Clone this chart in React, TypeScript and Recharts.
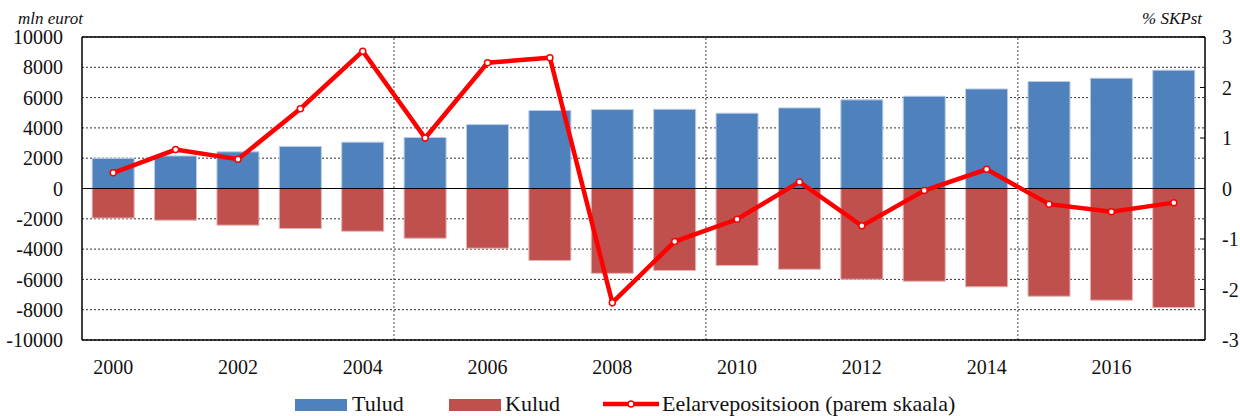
import React from "react";
import {
  ComposedChart,
  Bar,
  Line,
  XAxis,
  YAxis,
  CartesianGrid,
  ReferenceLine,
} from "recharts";

if (typeof document !== "undefined") {
  document.body.style.margin = "0";
}

const years = ["2000","2001","2002","2003","2004","2005","2006","2007","2008","2009","2010","2011","2012","2013","2014","2015","2016","2017"];
const tulud = [1990, 2150, 2420, 2780, 3060, 3370, 4220, 5150, 5210, 5230, 4970, 5320, 5850, 6090, 6570, 7060, 7280, 7810];
const kulud = [-1950, -2090, -2420, -2640, -2820, -3280, -3940, -4750, -5600, -5410, -5080, -5330, -5990, -6120, -6490, -7110, -7370, -7860];
const eelarve = [0.31, 0.77, 0.58, 1.58, 2.72, 1.0, 2.49, 2.59, -2.26, -1.05, -0.61, 0.13, -0.74, -0.04, 0.38, -0.31, -0.46, -0.28];
const leftTicks = [-10000, -8000, -6000, -4000, -2000, 0, 2000, 4000, 6000, 8000, 10000];
const rightTicks = [-3, -2, -1, 0, 1, 2, 3];
const periodStarts = ["2005", "2010", "2015"];

const data = years.map((y, i) => ({
  year: y,
  tulud: tulud[i],
  kulud: kulud[i],
  eelarve: eelarve[i],
}));

const FONT = "'Liberation Serif', 'DejaVu Serif', serif";
const BLUE = "#4F81BD";
const RED = "#C0504D";
const TICK_STYLE = { fontFamily: FONT, fontSize: 20, fill: "#111" };

const RightTick = (props: any) => {
  const { x, y, payload } = props;
  return (
    <g>
      <line x1={x - 5} x2={x} y1={y} y2={y} stroke="#000" strokeWidth={1} />
      <text x={x + 17} y={y} dy="0.35em" textAnchor="start" style={{ fontFamily: FONT, fontSize: 20 }} fill="#111">
        {payload.value}
      </text>
    </g>
  );
};

export default function App() {
  return (
    <div style={{ position: "relative", width: 1240, height: 416, fontFamily: FONT }}>
      <ComposedChart
        width={1240}
        height={416}
        data={data}
        stackOffset="sign"
        barCategoryGap="16.3%"
        margin={{ top: 37, right: 0, bottom: 36, left: 0 }}
        style={{ fontFamily: FONT }}
      >
        <CartesianGrid yAxisId="left" vertical={false} stroke="#333" strokeDasharray="2 2" />
        <XAxis
          dataKey="year"
          interval={1}
          tickLine={false}
          tickSize={0}
          tickMargin={20}
          height={40}
          axisLine={{ stroke: "#000", strokeWidth: 1.5 }}
          tick={{ ...TICK_STYLE, style: { fontFamily: FONT } }}
        />
        <YAxis
          yAxisId="left"
          orientation="left"
          width={82}
          domain={[-10000, 10000]}
          ticks={leftTicks}
          interval={0}
          tickLine={false}
          tickSize={0}
          tickMargin={19}
          axisLine={{ stroke: "#000", strokeWidth: 1.5 }}
          tick={{ ...TICK_STYLE, style: { fontFamily: FONT } }}
        />
        <YAxis
          yAxisId="right"
          orientation="right"
          width={35}
          domain={[-3, 3]}
          ticks={rightTicks}
          interval={0}
          tickLine={false}
          tickSize={0}
          tickMargin={0}
          axisLine={{ stroke: "#000", strokeWidth: 1.5 }}
          tick={<RightTick />}
        />
        {periodStarts.map((p) => (
          <ReferenceLine
            key={p}
            yAxisId="left"
            x={p}
            position="start"
            stroke="#444"
            strokeDasharray="2 2"
          />
        ))}
        <Bar yAxisId="left" dataKey="tulud" stackId="s" fill={BLUE} stroke="#b9cde6" strokeWidth={1} isAnimationActive={false} />
        <Bar yAxisId="left" dataKey="kulud" stackId="s" fill={RED} stroke="#e3b3b2" strokeWidth={1} isAnimationActive={false} />
        <ReferenceLine yAxisId="left" y={0} stroke="#000" strokeWidth={1.2} />
        <ReferenceLine yAxisId="left" y={10000} stroke="#000" strokeWidth={1.5} />
        <Line
          yAxisId="right"
          dataKey="eelarve"
          stroke="#FF0000"
          strokeWidth={4.5}
          dot={{ r: 3, fill: "#fff", stroke: "#FF0000", strokeWidth: 1.5 }}
          isAnimationActive={false}
        />
      </ComposedChart>

      <div style={{ position: "absolute", left: 18, top: 9, fontStyle: "italic", fontSize: 17, color: "#111", lineHeight: "20px" }}>
        mln eurot
      </div>
      <div style={{ position: "absolute", right: 38, top: 9, fontStyle: "italic", fontSize: 17, color: "#111", lineHeight: "20px" }}>
        % SKPst
      </div>

      <div style={{ position: "absolute", left: 0, top: 392, width: 1240, height: 24, fontSize: 22, color: "#111" }}>
        <div style={{ position: "absolute", left: 295, top: 7, width: 52, height: 12, background: BLUE }} />
        <div style={{ position: "absolute", left: 352, top: 0, lineHeight: "24px" }}>Tulud</div>
        <div style={{ position: "absolute", left: 449, top: 7, width: 52, height: 12, background: RED }} />
        <div style={{ position: "absolute", left: 505, top: 0, lineHeight: "24px" }}>Kulud</div>
        <svg style={{ position: "absolute", left: 602, top: 6 }} width={58} height={12}>
          <line x1={1} x2={57} y1={6} y2={6} stroke="#FF0000" strokeWidth={4.5} />
          <circle cx={29} cy={6} r={3} fill="#fff" stroke="#FF0000" strokeWidth={1.5} />
        </svg>
        <div style={{ position: "absolute", left: 662, top: 0, lineHeight: "24px" }}>Eelarvepositsioon (parem skaala)</div>
      </div>
    </div>
  );
}
